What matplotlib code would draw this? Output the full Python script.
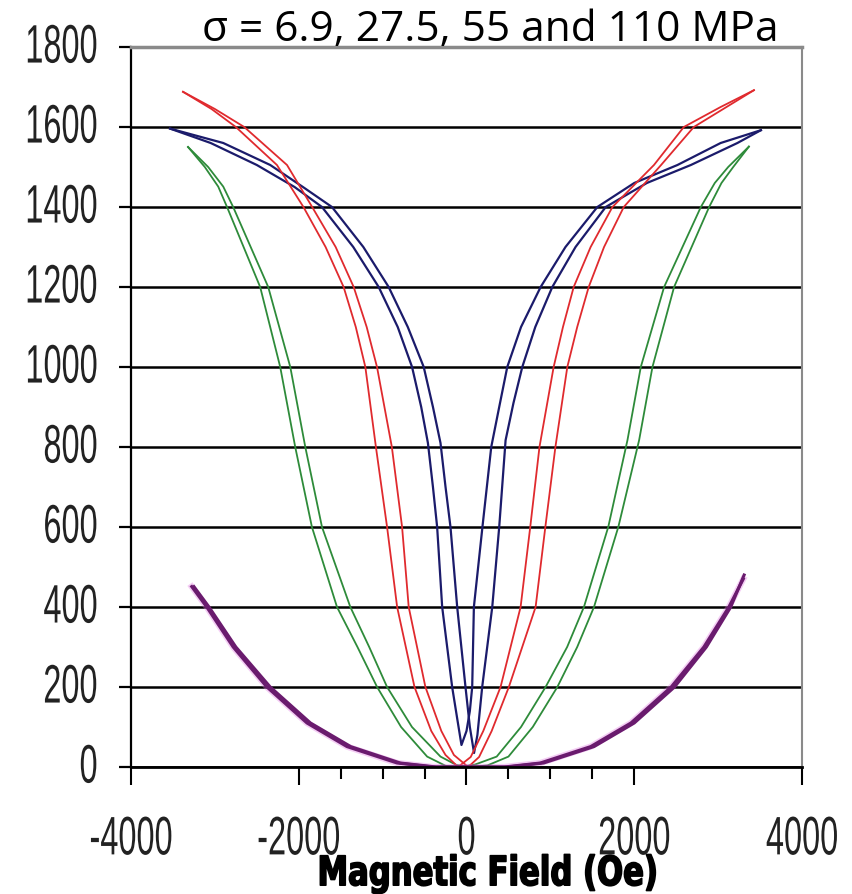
import matplotlib
matplotlib.use('Agg')
import matplotlib.pyplot as plt
from matplotlib.patheffects import AbstractPathEffect
from matplotlib.transforms import Affine2D

plt.rcParams['axes.unicode_minus'] = False

# ---------------- data (magnetic field in Oe, magnetostriction) ----------------
# sigma = 6.9 MPa (blue) - two hysteresis branches
blue_a_h = [-3534, -3050, -2500, -2050, -1723, -1350, -1047, -820, -649, -540, -460, -400, -350, -290, -171, -110, -60,
            0, 40, 68, 88, 190, 295, 390, 486, 650, 884, 1180, 1560, 2000, 2515, 3030, 3510]
blue_a_l = [1596, 1560, 1505, 1450, 1400, 1300, 1200, 1100, 1000, 900, 810, 700, 600, 400, 200, 120, 55,
            90, 140, 200, 400, 600, 800, 900, 1000, 1100, 1200, 1300, 1400, 1460, 1505, 1560, 1592]
blue_b_h = [-3534, -2900, -2340, -1950, -1604, -1230, -928, -700, -510, -400, -310, -250, -191, -111, -12, 40, 90,
            130, 187, 307, 390, 466, 560, 665, 820, 1023, 1300, 1660, 2150, 2675, 3230, 3510]
blue_b_l = [1596, 1560, 1505, 1450, 1400, 1300, 1200, 1100, 1000, 900, 810, 700, 600, 400, 200, 100, 35,
            80, 200, 400, 600, 817, 910, 1000, 1100, 1200, 1300, 1400, 1460, 1505, 1560, 1592]

# sigma = 27.5 MPa (red)
red_a_h = [-3380, -3040, -2750, -2260, -1944, -1680, -1465, -1320, -1206, -1080, -947, -827, -620, -420,
           -250, -100, 50, 200, 406, 645, 760, 870, 1039, 1150, 1278, 1480, 1740, 2235, 2591, 3030, 3427]
red_a_l = [1688, 1645, 1600, 1505, 1400, 1300, 1200, 1100, 1000, 800, 600, 400, 200, 90,
           30, 0, 25, 90, 200, 400, 600, 800, 1000, 1100, 1200, 1300, 1400, 1505, 1600, 1650, 1692]
red_b_h = [-3380, -3000, -2650, -2140, -1840, -1560, -1345, -1190, -1067, -890, -768, -689, -490, -300,
           -150, 20, 150, 300, 505, 824, 940, 1060, 1202, 1320, 1457, 1640, 1875, 2320, 2710, 3100, 3427]
red_b_l = [1688, 1645, 1600, 1505, 1400, 1300, 1200, 1100, 1000, 800, 600, 400, 200, 90,
           30, 0, 25, 90, 200, 400, 600, 800, 1000, 1100, 1200, 1300, 1400, 1505, 1600, 1650, 1692]

# sigma = 55 MPa (green)
green_a_h = [-3320, -3120, -2960, -2855, -2460, -2221, -2042, -1843, -1544, -1300, -1066, -780, -469, -250, -100,
             100, 360, 650, 943, 1200, 1400, 1690, 1919, 2078, 2356, 2794, 2960, 3120, 3367]
green_a_l = [1550, 1500, 1451, 1400, 1200, 1000, 800, 600, 400, 300, 200, 100, 26, 3, 0,
             6, 26, 100, 200, 300, 400, 600, 817, 1000, 1200, 1400, 1460, 1500, 1551]
green_b_h = [-3320, -3080, -2900, -2782, -2364, -2101, -1922, -1723, -1385, -1160, -947, -650, -310, -120, 50,
             250, 500, 790, 1083, 1320, 1520, 1810, 2058, 2217, 2475, 2893, 3040, 3180, 3367]
green_b_l = [1550, 1500, 1451, 1400, 1200, 1000, 800, 600, 400, 300, 200, 100, 26, 5, 0,
             4, 26, 100, 200, 300, 400, 600, 817, 1000, 1200, 1400, 1460, 1500, 1551]

# sigma = 110 MPa (purple)
purple_a_h = [-3276, -3097, -2782, -2380, -1902, -1425, -828, -400, 0, 450, 880, 1480, 1960, 2440,
              2830, 3128, 3300]
purple_a_l = [451, 400, 300, 200, 110, 51, 10, 0, 0, 0, 10, 51, 110, 200,
              300, 400, 470]
purple_b_h = [-3250, -3070, -2750, -2340, -1860, -1380, -790, -360, 40, 490, 920, 1520, 2000, 2480,
              2860, 3150, 3310]
purple_b_l = [451, 400, 300, 200, 110, 51, 10, 0, 0, 0, 10, 51, 110, 200,
              300, 400, 480]

y_ticks = [0, 200, 400, 600, 800, 1000, 1200, 1400, 1600, 1800]
x_major = [-4000, -2000, 0, 2000, 4000]
x_minor = [-1500, -1000, -500, 500, 1000, 1500]

title_text = "σ = 6.9, 27.5, 55 and 110 MPa"
xlabel_text = "Magnetic Field (Oe)"


class Squeeze(AbstractPathEffect):
    """Draw text glyphs with a narrow / tall font look."""

    def __init__(self, sx=1.0, sy=1.0, anchor='center', dy=0.0, stroke=0.0):
        super().__init__()
        self.sx, self.sy, self.anchor, self.dy, self.stroke = sx, sy, anchor, dy, stroke

    def draw_path(self, renderer, gc, tpath, affine, rgbFace=None):
        ext = tpath.transformed(affine).get_extents()
        cx = ext.x1 if self.anchor == 'right' else 0.5 * (ext.x0 + ext.x1)
        cy = 0.5 * (ext.y0 + ext.y1)
        dy = renderer.points_to_pixels(self.dy)
        t = affine + Affine2D().translate(-cx, -cy).scale(self.sx, self.sy).translate(cx, cy + dy)
        if self.stroke > 0:
            gc0 = renderer.new_gc()
            gc0.copy_properties(gc)
            gc0.set_linewidth(self.stroke)
            gc0.set_foreground(rgbFace if rgbFace is not None else 'black')
            gc0.set_joinstyle('round')
            renderer.draw_path(gc0, tpath, t, rgbFace)
            gc0.restore()
        else:
            renderer.draw_path(gc, tpath, t, rgbFace)


# ---------------- figure ----------------
W, H = 853, 894
fig = plt.figure(figsize=(W / 100, H / 100), dpi=100)
ax = fig.add_axes([131 / W, 127 / H, 671 / W, 720 / H])

tick_font = ['Liberation Sans', 'DejaVu Sans']

ax.plot(green_a_h, green_a_l, color='#2e8b3a', lw=1.3)
ax.plot(green_b_h, green_b_l, color='#2e8b3a', lw=1.3)
ax.plot(blue_a_h, blue_a_l, color='#1b1b6b', lw=1.6)
ax.plot(blue_b_h, blue_b_l, color='#1b1b6b', lw=1.6)
ax.plot(red_a_h, red_a_l, color='#e02a2e', lw=1.3)
ax.plot(red_b_h, red_b_l, color='#e02a2e', lw=1.3)
ax.plot(purple_a_h, purple_a_l, color='#e070e0', lw=4.5, alpha=0.35)
ax.plot(purple_a_h, purple_a_l, color='#6a1b6e', lw=2.2)
ax.plot(purple_b_h, purple_b_l, color='#6a1b6e', lw=2.2)

ax.set_xlim(-4000, 4000)
ax.set_ylim(0, 1800)

ax.set_yticks(y_ticks)
ax.set_yticklabels([str(v) for v in y_ticks], family=tick_font, fontsize=26, color='#222222',
                   path_effects=[Squeeze(sx=0.9, sy=1.5, anchor='right', dy=3)])
ax.set_xticks(x_major)
ax.set_xticklabels([str(v) for v in x_major], family=tick_font, fontsize=26, color='#222222',
                   path_effects=[Squeeze(sx=0.9, sy=1.5, anchor='center')])
ax.set_xticks(x_minor, minor=True)

ax.yaxis.grid(True, color='black', lw=1.8)
ax.set_axisbelow(True)

ax.tick_params(axis='y', which='major', length=9, width=1.6, pad=15, direction='out', color='black')
ax.tick_params(axis='x', which='major', length=13, width=1.5, pad=26, direction='out', color='black')
ax.tick_params(axis='x', which='minor', length=8.5, width=1.5, direction='out', color='black')

ax.spines['left'].set_color('black')
ax.spines['left'].set_linewidth(1.6)
ax.spines['bottom'].set_color('black')
ax.spines['bottom'].set_linewidth(2.0)
ax.spines['top'].set_color('#8a8a8a')
ax.spines['top'].set_linewidth(2.5)
ax.spines['right'].set_color('#8a8a8a')
ax.spines['right'].set_linewidth(1.5)

fig.text(490 / W, (H - 41) / H, title_text, ha='center', va='baseline',
         family=['Open Sans', 'DejaVu Sans'], fontsize=30.5, color='black')
fig.text(488 / W, (H - 884) / H, xlabel_text, ha='center', va='baseline',
         family='DejaVu Sans', fontweight='bold', fontsize=26, color='black',
         path_effects=[Squeeze(sx=0.85, sy=1.12, anchor='center', stroke=1.2)])

fig.savefig('out.png', dpi=100)
